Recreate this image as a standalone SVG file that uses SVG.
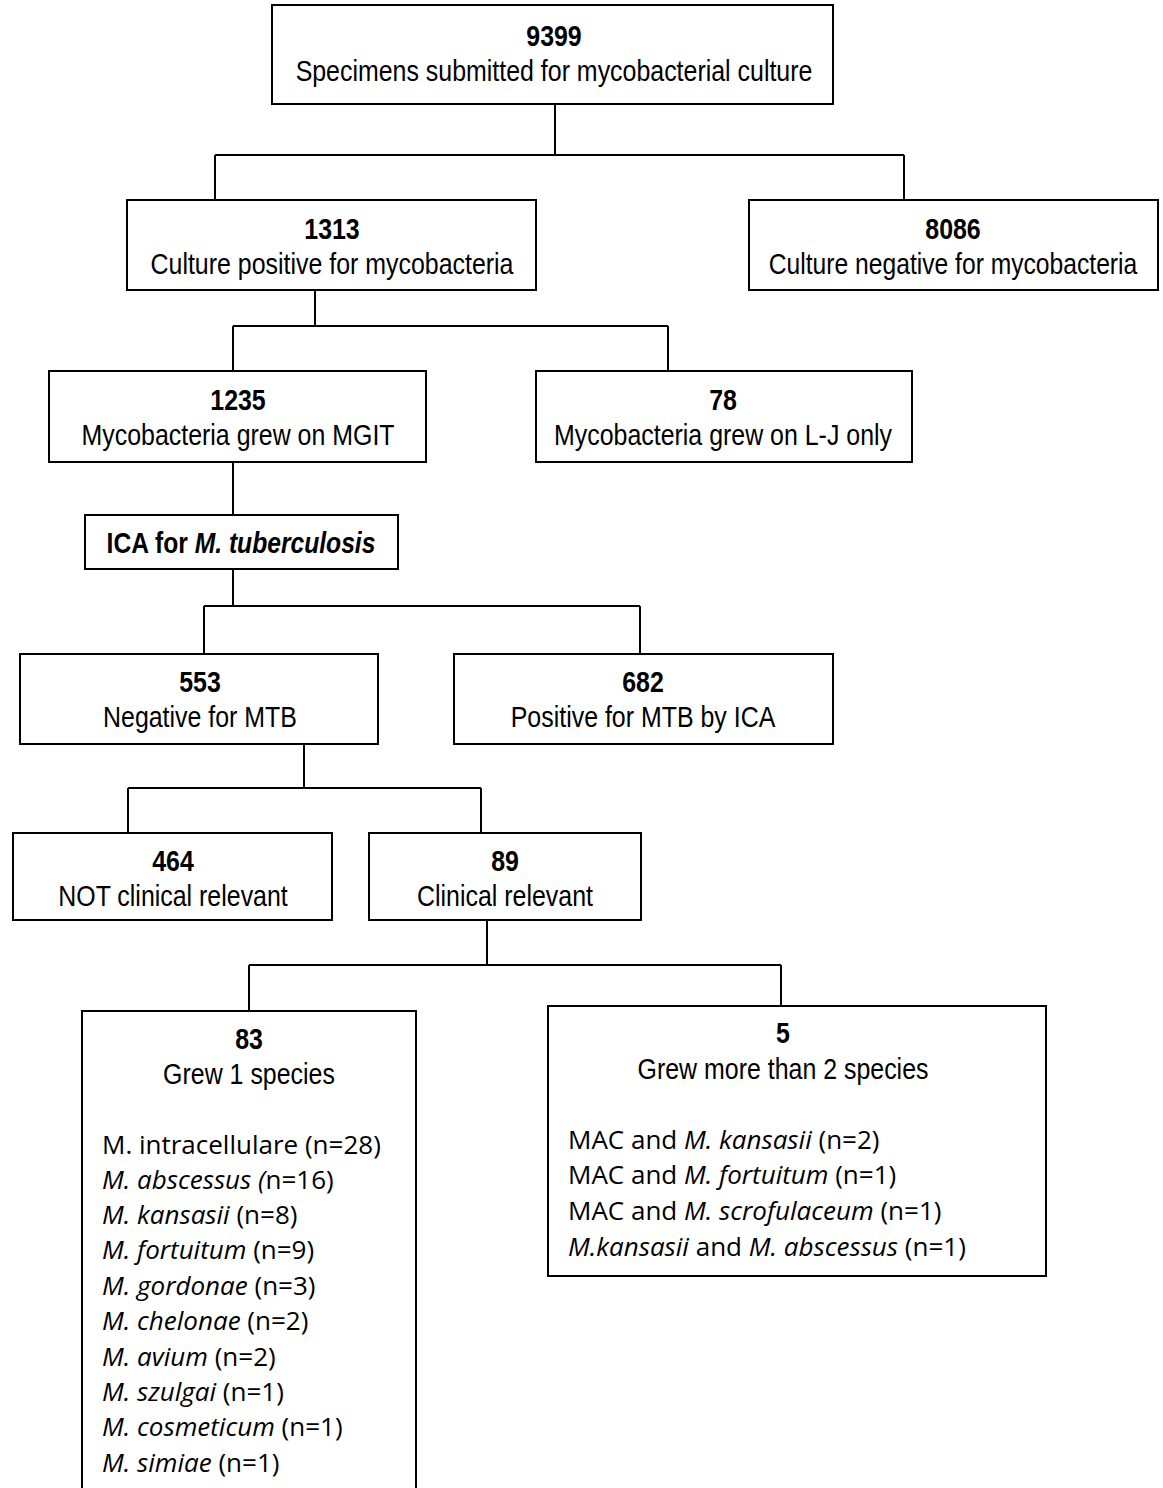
<svg xmlns="http://www.w3.org/2000/svg" width="1163" height="1488" viewBox="0 0 1163 1488">
<style>
rect.box{fill:#fff;stroke:#000;stroke-width:2}
.conn line{stroke:#000;stroke-width:2}
text{fill:#000}
.h{font-family:"Liberation Sans Narrow","Arial Narrow","Liberation Sans",sans-serif;font-size:29px;text-anchor:middle}
.b{font-weight:bold}
.l{font-family:"Open Sans","Liberation Sans",sans-serif;font-size:26px}
.i{font-style:italic}
</style>
<rect width="1163" height="1488" fill="#fff"/>
<g id="connectors" class="conn">
<line x1="555" y1="104" x2="555" y2="155"/>
<line x1="215" y1="155" x2="904" y2="155"/>
<line x1="215" y1="155" x2="215" y2="200"/>
<line x1="904" y1="155" x2="904" y2="200"/>
<line x1="315" y1="290" x2="315" y2="326"/>
<line x1="233" y1="326" x2="668" y2="326"/>
<line x1="233" y1="326" x2="233" y2="371"/>
<line x1="668" y1="326" x2="668" y2="371"/>
<line x1="233" y1="462" x2="233" y2="515"/>
<line x1="233" y1="569" x2="233" y2="606"/>
<line x1="204" y1="606" x2="640" y2="606"/>
<line x1="204" y1="606" x2="204" y2="654"/>
<line x1="640" y1="606" x2="640" y2="654"/>
<line x1="304" y1="744" x2="304" y2="788"/>
<line x1="128" y1="788" x2="481" y2="788"/>
<line x1="128" y1="788" x2="128" y2="833"/>
<line x1="481" y1="788" x2="481" y2="833"/>
<line x1="487" y1="920" x2="487" y2="965"/>
<line x1="249" y1="965" x2="781" y2="965"/>
<line x1="249" y1="965" x2="249" y2="1011"/>
<line x1="781" y1="965" x2="781" y2="1006"/>
</g>
<g id="n9399">
<rect class="box" x="272" y="5" width="561" height="99"/>
<text class="h b" transform="translate(554,46) scale(0.86,1)">9399</text>
<text class="h" transform="translate(554,81) scale(0.86,1)">Specimens submitted for mycobacterial culture</text>
</g>
<g id="n1313">
<rect class="box" x="127" y="200" width="409" height="90"/>
<text class="h b" transform="translate(332,239) scale(0.86,1)">1313</text>
<text class="h" transform="translate(332,274) scale(0.86,1)">Culture positive for mycobacteria</text>
</g>
<g id="n8086">
<rect class="box" x="749" y="200" width="409" height="90"/>
<text class="h b" transform="translate(953,239) scale(0.86,1)">8086</text>
<text class="h" transform="translate(953,274) scale(0.85,1)">Culture negative for mycobacteria</text>
</g>
<g id="n1235">
<rect class="box" x="49" y="371" width="377" height="91"/>
<text class="h b" transform="translate(238,410) scale(0.86,1)">1235</text>
<text class="h" transform="translate(238,445) scale(0.86,1)">Mycobacteria grew on MGIT</text>
</g>
<g id="n78">
<rect class="box" x="536" y="371" width="376" height="91"/>
<text class="h b" transform="translate(723,410) scale(0.86,1)">78</text>
<text class="h" transform="translate(723,445) scale(0.86,1)">Mycobacteria grew on L-J only</text>
</g>
<g id="nICA">
<rect class="box" x="85" y="515" width="313" height="54"/>
<text class="h b" transform="translate(241,553) scale(0.85,1)">ICA for <tspan class="i">M. tuberculosis</tspan></text>
</g>
<g id="n553">
<rect class="box" x="20" y="654" width="358" height="90"/>
<text class="h b" transform="translate(200,692) scale(0.86,1)">553</text>
<text class="h" transform="translate(200,727) scale(0.86,1)">Negative for MTB</text>
</g>
<g id="n682">
<rect class="box" x="454" y="654" width="379" height="90"/>
<text class="h b" transform="translate(643,692) scale(0.86,1)">682</text>
<text class="h" transform="translate(643,727) scale(0.86,1)">Positive for MTB by ICA</text>
</g>
<g id="n464">
<rect class="box" x="13" y="833" width="319" height="87"/>
<text class="h b" transform="translate(173,871) scale(0.86,1)">464</text>
<text class="h" transform="translate(173,906) scale(0.86,1)">NOT clinical relevant</text>
</g>
<g id="n89">
<rect class="box" x="369" y="833" width="272" height="87"/>
<text class="h b" transform="translate(505,871) scale(0.86,1)">89</text>
<text class="h" transform="translate(505,906) scale(0.86,1)">Clinical relevant</text>
</g>
<g id="n83">
<rect class="box" x="82" y="1011" width="334" height="490"/>
<text class="h b" transform="translate(249,1049) scale(0.86,1)">83</text>
<text class="h" transform="translate(249,1084) scale(0.86,1)">Grew 1 species</text>
<text class="l" x="102" y="1154">M. intracellulare (n=28)</text>
<text class="l" x="102" y="1189"><tspan class="i">M. abscessus (</tspan>n=16)</text>
<text class="l" x="102" y="1224"><tspan class="i">M. kansasii</tspan> (n=8)</text>
<text class="l" x="102" y="1259"><tspan class="i">M. fortuitum</tspan> (n=9)</text>
<text class="l" x="102" y="1295"><tspan class="i">M. gordonae</tspan> (n=3)</text>
<text class="l" x="102" y="1330"><tspan class="i">M. chelonae</tspan> (n=2)</text>
<text class="l" x="102" y="1366"><tspan class="i">M. avium</tspan> (n=2)</text>
<text class="l" x="102" y="1401"><tspan class="i">M. szulgai</tspan> (n=1)</text>
<text class="l" x="102" y="1436"><tspan class="i">M. cosmeticum</tspan> (n=1)</text>
<text class="l" x="102" y="1472"><tspan class="i">M. simiae</tspan> (n=1)</text>
</g>
<g id="n5">
<rect class="box" x="548" y="1006" width="498" height="270"/>
<text class="h b" transform="translate(783,1043) scale(0.86,1)">5</text>
<text class="h" transform="translate(783,1079) scale(0.86,1)">Grew more than 2 species</text>
<text class="l" x="568" y="1149">MAC and <tspan class="i">M. kansasii</tspan> (n=2)</text>
<text class="l" x="568" y="1184">MAC and <tspan class="i">M. fortuitum</tspan> (n=1)</text>
<text class="l" x="568" y="1220">MAC and <tspan class="i">M. scrofulaceum</tspan> (n=1)</text>
<text class="l" x="568" y="1256"><tspan class="i">M.kansasii</tspan> and <tspan class="i">M. abscessus</tspan> (n=1)</text>
</g>
</svg>
